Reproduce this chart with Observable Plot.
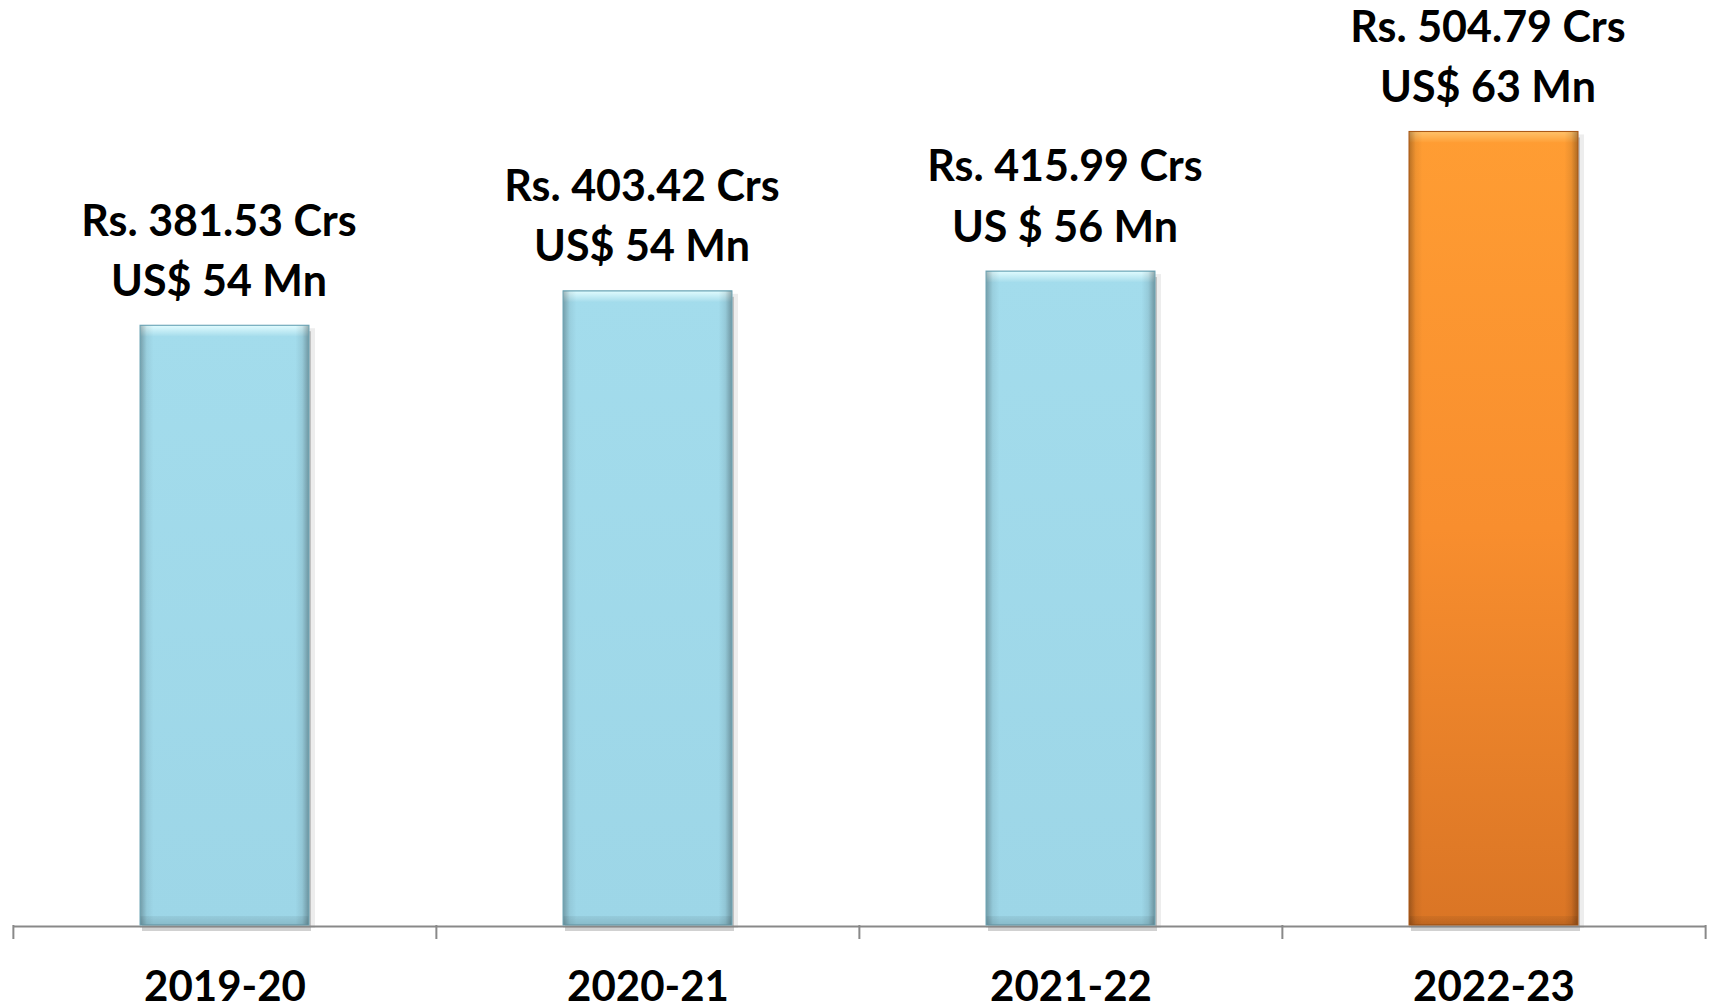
<!DOCTYPE html>
<html>
<head>
<meta charset="utf-8">
<script src="https://cdn.jsdelivr.net/npm/d3@7"></script>
<script src="https://cdn.jsdelivr.net/npm/@observablehq/plot@0.6"></script>
<style>
  html, body { margin: 0; padding: 0; background: #ffffff; }
  #chart svg { display: block; }
</style>
</head>
<body>
<div id="chart"></div>
<script>
// ---- data ----
const years = ["2019-20", "2020-21", "2021-22", "2022-23"];
const revenueCrs = [381.53, 403.42, 415.99, 504.79];
const rsLabels = ["Rs. 381.53 Crs", "Rs. 403.42 Crs", "Rs. 415.99 Crs", "Rs. 504.79 Crs"];
const usdLabels = ["US$ 54 Mn", "US$ 54 Mn", "US $ 56 Mn", "US$ 63 Mn"];
const highlightYear = "2022-23";

const data = years.map((year, i) => ({
  year,
  value: revenueCrs[i],
  label: rsLabels[i] + "\n" + usdLabels[i],
  highlight: year === highlightYear
}));

// ---- layout ----
const W = 1716, H = 1008;
const mL = 13, mR = 10, mT = 0, mB = 83;
const step = (W - mL - mR) / years.length;
const font = "Lato, Carlito, Calibri, 'Open Sans', sans-serif";

const defs = () => {
  const g = d3.create("svg:defs");
  const lin = (id, stops, horizontal) => {
    const lg = g.append("linearGradient").attr("id", id)
      .attr("x1", 0).attr("y1", 0)
      .attr("x2", horizontal ? 1 : 0).attr("y2", horizontal ? 0 : 1);
    stops.forEach(([o, c, op]) => lg.append("stop").attr("offset", o)
      .attr("stop-color", c).attr("stop-opacity", op ?? 1));
  };
  lin("blueBody", [[0, "#a3dcec"], [1, "#9dd6e7"]]);
  lin("orangeBody", [[0, "#ff9d33"], [0.5, "#f88e2e"], [1, "#da7525"]]);
  lin("blueTop", [[0, "#7fb9c9"], [0.1, "#dcf9fd"], [1, "#a6ddec"]]);
  lin("orangeTop", [[0, "#c9731f"], [0.1, "#ffbf66"], [1, "#ff9f36"]]);
  lin("sides", [[0, "#000", 0.28], [0.04, "#000", 0.06], [0.08, "#000", 0], [0.92, "#000", 0], [0.96, "#000", 0.08], [1, "#000", 0.32]], true);
  lin("bottomShade", [[0, "#000", 0.05], [0.85, "#000", 0.12], [1, "#000", 0.3]]);
  return g.node();
};

const blue = data.filter(d => !d.highlight);
const orange = data.filter(d => d.highlight);

const plot = Plot.plot({
  width: W,
  height: H,
  marginLeft: mL,
  marginRight: mR,
  marginTop: mT,
  marginBottom: mB,
  x: { domain: years, paddingInner: 0.6, paddingOuter: 0.3, axis: null },
  y: { domain: [0, 588.4], axis: null },
  style: { background: "transparent", fontFamily: font },
  marks: [
    defs,
    // drop shadow
    Plot.barY(data, { x: "year", y: "value", fill: "#000", fillOpacity: 0.07, dx: 3, dy: 3, insetLeft: -3, insetRight: -3 }),
    Plot.barY(data, { x: "year", y: "value", fill: "#000", fillOpacity: 0.18, dx: 2, dy: 6 }),
    // axis line
    Plot.ruleY([0], { stroke: "#898989", strokeWidth: 2, dy: 1 }),
    // bar bodies
    Plot.barY(blue, { x: "year", y: "value", fill: "url(#blueBody)" }),
    Plot.barY(orange, { x: "year", y: "value", fill: "url(#orangeBody)" }),
    // bevel: top highlight strip
    Plot.barY(blue, { x: "year", y1: "value", y2: "value", insetBottom: -11, fill: "url(#blueTop)" }),
    Plot.barY(orange, { x: "year", y1: "value", y2: "value", insetBottom: -11, fill: "url(#orangeTop)" }),
    // bevel: bottom shade strip
    Plot.barY(data, { x: "year", y1: 0, y2: 0, insetTop: -9, fill: "url(#bottomShade)" }),
    // bevel: side shading
    Plot.barY(data, { x: "year", y: "value", fill: "url(#sides)" }),
    // outline
    Plot.barY(blue, { x: "year", y: "value", fill: "none", stroke: "#6fa6b6", strokeWidth: 1 }),
    Plot.barY(orange, { x: "year", y: "value", fill: "none", stroke: "#a95714", strokeWidth: 1 }),
    // category boundary ticks
    Plot.ruleX(years, { x: d => d, y1: 0, y2: 0, insetBottom: -14, dx: -step / 2, stroke: "#898989", strokeWidth: 2 }),
    Plot.ruleX([years[years.length - 1]], { x: d => d, y1: 0, y2: 0, insetBottom: -14, dx: step / 2, stroke: "#898989", strokeWidth: 2 }),
    // category labels
    Plot.text(years, { x: d => d, y: 0, text: d => d, dy: 75, lineAnchor: "bottom", fontSize: 42, fontWeight: "bold", fill: "#000" }),
    // value labels
    Plot.text(data, { x: "year", y: "value", text: "label", dy: -30, dx: -6, lineAnchor: "bottom", lineHeight: 1.4, fontSize: 43, fontWeight: "bold", fill: "#000" })
  ]
});

document.getElementById("chart").appendChild(plot);
</script>
</body>
</html>
